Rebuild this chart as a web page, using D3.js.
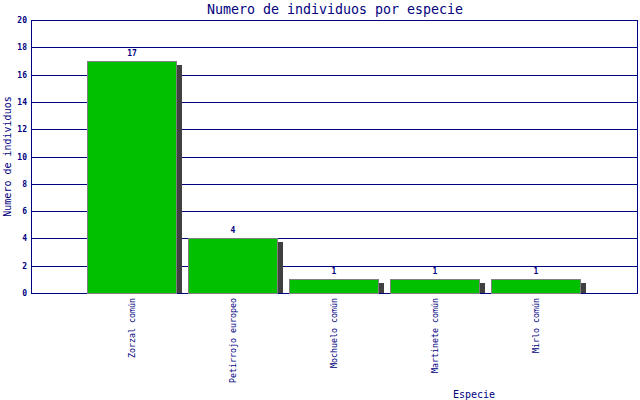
<!DOCTYPE html>
<html>
<head>
<meta charset="utf-8">
<script src="https://cdn.jsdelivr.net/npm/d3@7"></script>
<style>
  body { margin: 0; background: #fff; }
  text { font-family: "DejaVu Sans Mono", monospace; fill: #000080; }
  line, rect { shape-rendering: crispEdges; }
</style>
</head>
<body>
<div id="chart"></div>
<script>
// chart data
const especies = ["Zorzal común", "Petirrojo europeo", "Mochuelo común", "Martinete común", "Mirlo común"];
const individuos = [17, 4, 1, 1, 1];
const yTicks = [0, 2, 4, 6, 8, 10, 12, 14, 16, 18, 20];

const width = 640, height = 400;
const plotLeft = 31, plotRight = 637, plotTop = 20, plotBottom = 293;
const navy = "#000080";

const svg = d3.select("#chart").append("svg")
  .attr("width", width)
  .attr("height", height);

const step = (plotRight - plotLeft) / (especies.length + 1);

const x = d3.scaleBand()
  .domain(especies)
  .range([plotLeft + step / 2, plotRight - step / 2])
  .paddingInner(0.109)
  .paddingOuter(0.0545);

const y = d3.scaleLinear()
  .domain([0, 20])
  .range([plotBottom, plotTop]);

// gridlines
svg.append("g")
  .selectAll("line")
  .data(yTicks)
  .enter().append("line")
    .attr("x1", plotLeft)
    .attr("x2", plotRight + 1)
    .attr("y1", (d) => Math.round(y(d)) + 0.5)
    .attr("y2", (d) => Math.round(y(d)) + 0.5)
    .attr("stroke", navy)
    .attr("stroke-width", 1);

// frame
svg.append("line")
  .attr("x1", plotLeft + 0.5).attr("x2", plotLeft + 0.5)
  .attr("y1", plotTop).attr("y2", plotBottom + 1)
  .attr("stroke", navy);
svg.append("line")
  .attr("x1", plotRight + 0.5).attr("x2", plotRight + 0.5)
  .attr("y1", plotTop).attr("y2", plotBottom + 1)
  .attr("stroke", navy);

// y tick labels
svg.append("g")
  .selectAll("text")
  .data(yTicks)
  .enter().append("text")
    .attr("x", plotLeft - 4)
    .attr("y", (d) => Math.round(y(d)))
    .attr("dy", "0.35em")
    .attr("text-anchor", "end")
    .style("font-size", "8px")
    .style("font-weight", "bold")
    .text((d) => d);

const bars = svg.append("g")
  .selectAll("g")
  .data(especies.map((e, i) => ({ especie: e, valor: individuos[i] })))
  .enter().append("g");

// shadows
bars.append("rect")
  .attr("x", (d) => Math.round(x(d.especie) + x.bandwidth()))
  .attr("y", (d) => Math.round(y(d.valor)) + 4)
  .attr("width", 5)
  .attr("height", (d) => plotBottom - Math.round(y(d.valor)) - 4)
  .attr("fill", "#404040");

bars.append("rect")
  .attr("x", (d) => Math.round(x(d.especie)) + 0.5)
  .attr("y", (d) => Math.round(y(d.valor)) + 0.5)
  .attr("width", Math.round(x.bandwidth()) - 1)
  .attr("height", (d) => plotBottom - Math.round(y(d.valor)))
  .attr("fill", "#00c000")
  .attr("stroke", "#808080")
  .attr("stroke-width", 1);

bars.append("text")
  .attr("x", (d) => x(d.especie) + x.bandwidth() / 2)
  .attr("y", (d) => Math.round(y(d.valor)) - 5)
  .attr("text-anchor", "middle")
  .style("font-size", "8px")
  .style("font-weight", "bold")
  .text((d) => d.valor);

// category labels
bars.append("text")
  .attr("transform", (d) => "translate(" + (x(d.especie) + x.bandwidth() / 2 + 3) + "," + (plotBottom + 5) + ") rotate(-90)")
  .attr("text-anchor", "end")
  .style("font-size", "8.3px")
  .text((d) => d.especie);

// titles
svg.append("text")
  .attr("x", 335)
  .attr("y", 14)
  .attr("text-anchor", "middle")
  .style("font-size", "13.3px")
  .text("Numero de individuos por especie");

svg.append("text")
  .attr("transform", "translate(11," + ((plotTop + plotBottom) / 2) + ") rotate(-90)")
  .attr("text-anchor", "middle")
  .style("font-size", "10px")
  .text("Numero de individuos");

svg.append("text")
  .attr("x", 474)
  .attr("y", 398)
  .attr("text-anchor", "middle")
  .style("font-size", "10px")
  .text("Especie");
</script>
</body>
</html>
